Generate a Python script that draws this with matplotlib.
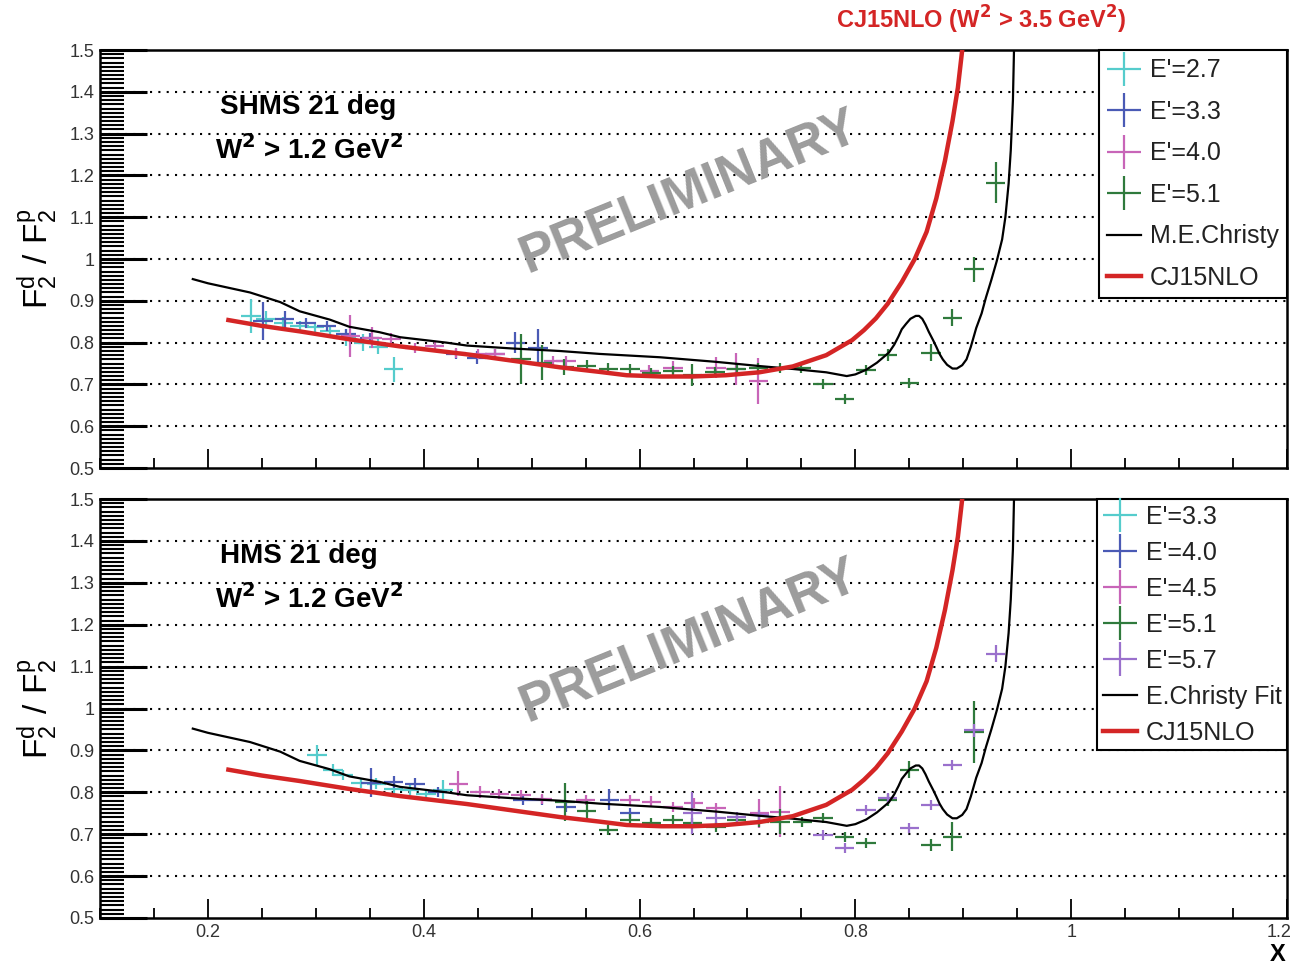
import matplotlib.pyplot as plt
import matplotlib.transforms as mtransforms
from matplotlib.container import ErrorbarContainer
from matplotlib.legend_handler import HandlerErrorbar
from matplotlib.ticker import MultipleLocator

plt.rcParams['font.family'] = ['Liberation Sans', 'DejaVu Sans']

# model curves (same in both panels)
christy_x = [0.186, 0.200, 0.239, 0.267, 0.285, 0.313, 0.331, 0.359, 0.378, 0.421, 0.440,
             0.482, 0.526, 0.563, 0.619, 0.671, 0.711, 0.742, 0.773, 0.792, 0.800, 0.810,
             0.820, 0.831, 0.836, 0.840, 0.843, 0.847, 0.851, 0.856, 0.859, 0.862, 0.865,
             0.868, 0.872, 0.875, 0.878, 0.881, 0.885, 0.890, 0.894, 0.899, 0.903, 0.907,
             0.912, 0.917, 0.921, 0.926, 0.931, 0.936, 0.939, 0.942, 0.944, 0.946, 0.947]
christy_y = [0.952, 0.942, 0.920, 0.897, 0.875, 0.855, 0.838, 0.825, 0.813, 0.800, 0.793,
             0.786, 0.780, 0.773, 0.765, 0.754, 0.744, 0.737, 0.729, 0.720, 0.724, 0.735,
             0.752, 0.776, 0.795, 0.815, 0.832, 0.845, 0.857, 0.864, 0.864, 0.857, 0.843,
             0.826, 0.806, 0.790, 0.773, 0.760, 0.747, 0.738, 0.738, 0.746, 0.760, 0.790,
             0.835, 0.870, 0.908, 0.950, 0.995, 1.047, 1.100, 1.180, 1.260, 1.380, 1.500]

cj15_x = [0.219, 0.250, 0.285, 0.331, 0.378, 0.440, 0.501, 0.526, 0.563, 0.588, 0.620,
          0.649, 0.680, 0.711, 0.742, 0.773, 0.797, 0.808, 0.819, 0.830, 0.843, 0.855,
          0.866, 0.875, 0.883, 0.890, 0.895, 0.899]
cj15_y = [0.854, 0.840, 0.827, 0.808, 0.791, 0.772, 0.750, 0.741, 0.730, 0.722, 0.719,
          0.719, 0.722, 0.729, 0.743, 0.770, 0.806, 0.830, 0.858, 0.893, 0.945, 1.000,
          1.065, 1.145, 1.235, 1.330, 1.410, 1.500]

# SHMS 21 deg
shms_labels = ["E'=2.7", "E'=3.3", "E'=4.0", "E'=5.1"]
shms_x = [
    [0.240, 0.254, 0.270, 0.285, 0.299, 0.313, 0.328, 0.344, 0.358, 0.372],
    [0.251, 0.271, 0.291, 0.310, 0.328, 0.350, 0.430, 0.449, 0.466, 0.485, 0.506],
    [0.332, 0.352, 0.370, 0.392, 0.410, 0.430, 0.450, 0.466, 0.520, 0.532, 0.609,
     0.631, 0.671, 0.689, 0.710],
    [0.490, 0.510, 0.530, 0.551, 0.571, 0.591, 0.611, 0.631, 0.649, 0.670, 0.690,
     0.710, 0.730, 0.750, 0.770, 0.790, 0.810, 0.830, 0.850, 0.870, 0.890, 0.910, 0.930],
]
shms_y = [
    [0.864, 0.856, 0.846, 0.840, 0.838, 0.828, 0.812, 0.800, 0.790, 0.736],
    [0.852, 0.856, 0.848, 0.840, 0.820, 0.812, 0.772, 0.764, 0.772, 0.800, 0.788],
    [0.816, 0.812, 0.808, 0.788, 0.792, 0.776, 0.772, 0.772, 0.756, 0.756, 0.732,
     0.740, 0.740, 0.736, 0.708],
    [0.760, 0.752, 0.742, 0.744, 0.737, 0.738, 0.728, 0.732, 0.722, 0.730, 0.738,
     0.740, 0.740, 0.740, 0.700, 0.664, 0.734, 0.770, 0.703, 0.776, 0.860, 0.975, 1.183],
]
shms_err = [
    [0.040, 0.020, 0.015, 0.012, 0.012, 0.015, 0.020, 0.020, 0.018, 0.030],
    [0.045, 0.020, 0.012, 0.012, 0.012, 0.012, 0.012, 0.015, 0.012, 0.025, 0.045],
    [0.050, 0.025, 0.015, 0.012, 0.012, 0.012, 0.012, 0.012, 0.012, 0.012, 0.015,
     0.015, 0.025, 0.038, 0.056],
    [0.060, 0.042, 0.020, 0.015, 0.015, 0.012, 0.012, 0.012, 0.026, 0.012, 0.012,
     0.012, 0.012, 0.012, 0.012, 0.012, 0.012, 0.015, 0.012, 0.020, 0.020, 0.030, 0.048],
]
shms_colors = ['#55cccc', '#4a5ab5', '#c865b8', '#2f7a3c']

# HMS 21 deg
hms_labels = ["E'=3.3", "E'=4.0", "E'=4.5", "E'=5.1", "E'=5.7"]
hms_x = [
    [0.301, 0.316, 0.325, 0.342, 0.356, 0.372, 0.387, 0.402, 0.418],
    [0.351, 0.372, 0.392, 0.413, 0.492, 0.510, 0.532, 0.572, 0.591],
    [0.432, 0.452, 0.470, 0.490, 0.510, 0.550, 0.591, 0.611, 0.631, 0.650, 0.671,
     0.711, 0.730],
    [0.531, 0.551, 0.571, 0.591, 0.611, 0.631, 0.649, 0.671, 0.690, 0.711, 0.730,
     0.751, 0.770, 0.790, 0.810, 0.830, 0.850, 0.870, 0.890, 0.910],
    [0.649, 0.671, 0.690, 0.711, 0.770, 0.790, 0.810, 0.830, 0.850, 0.870, 0.890,
     0.910, 0.930],
]
hms_y = [
    [0.889, 0.853, 0.841, 0.823, 0.821, 0.807, 0.805, 0.797, 0.805],
    [0.823, 0.825, 0.821, 0.801, 0.781, 0.781, 0.764, 0.782, 0.750],
    [0.821, 0.801, 0.797, 0.793, 0.785, 0.781, 0.782, 0.778, 0.766, 0.774, 0.762,
     0.750, 0.754],
    [0.777, 0.755, 0.710, 0.734, 0.726, 0.734, 0.726, 0.718, 0.734, 0.730, 0.730,
     0.730, 0.738, 0.694, 0.678, 0.782, 0.854, 0.674, 0.694, 0.944],
    [0.750, 0.738, 0.742, 0.746, 0.698, 0.667, 0.758, 0.786, 0.714, 0.770, 0.866,
     0.948, 1.131],
]
hms_err = [
    [0.025, 0.015, 0.012, 0.012, 0.012, 0.012, 0.012, 0.012, 0.025],
    [0.035, 0.015, 0.012, 0.012, 0.012, 0.012, 0.012, 0.025, 0.012],
    [0.030, 0.015, 0.012, 0.012, 0.012, 0.012, 0.012, 0.012, 0.012, 0.012, 0.012,
     0.035, 0.060],
    [0.045, 0.025, 0.012, 0.015, 0.012, 0.012, 0.012, 0.012, 0.012, 0.012, 0.030,
     0.012, 0.012, 0.012, 0.012, 0.015, 0.020, 0.015, 0.035, 0.075],
    [0.050, 0.012, 0.012, 0.012, 0.012, 0.012, 0.012, 0.012, 0.012, 0.012, 0.012,
     0.015, 0.020],
]
hms_colors = ['#55cccc', '#4a5ab5', '#c865b8', '#2f7a3c', '#9a70cc']

x_half = 0.009
y_ticks = [0.5, 0.6, 0.7, 0.8, 0.9, 1.0, 1.1, 1.2, 1.3, 1.4, 1.5]
y_ticklabels = ['0.5', '0.6', '0.7', '0.8', '0.9', '1', '1.1', '1.2', '1.3', '1.4', '1.5']
x_ticks = [0.2, 0.4, 0.6, 0.8, 1.0, 1.2]
x_ticklabels = ['0.2', '0.4', '0.6', '0.8', '1', '1.2']

fig = plt.figure(figsize=(12.97, 9.66), dpi=100)
ax1 = fig.add_axes([0.0771, 0.5155, 0.9152, 0.4327])
ax2 = fig.add_axes([0.0771, 0.0497, 0.9152, 0.4337])


def panel(ax, xs, ys, errs, colors, labels, model_label, title, spacing, bpad):
    ax.set_xlim(0.1, 1.2)
    ax.set_ylim(0.5, 1.5)
    # dotted horizontal grid
    for yv in y_ticks[1:-1]:
        ax.axhline(yv, color='black', lw=1.5, ls=(0, (1, 3)), zorder=1)
    handles = []
    for x, y, e, c, lab in zip(xs, ys, errs, colors, labels):
        h = ax.errorbar(x, y, yerr=e, xerr=x_half, fmt='none', ecolor=c,
                        elinewidth=1.6, label=lab, zorder=3)
        handles.append(h)
    l1, = ax.plot(christy_x, christy_y, color='black', lw=1.6, label=model_label, zorder=4)
    l2, = ax.plot(cj15_x, cj15_y, color='#d42525', lw=3.2, label='CJ15NLO', zorder=4)
    handles += [l1, l2]

    ax.text(0.497, 0.66, 'PRELIMINARY', transform=ax.transAxes, fontsize=38,
            fontweight='bold', color='#9c9c9c', rotation=22, ha='center',
            va='center', rotation_mode='anchor', zorder=2)
    ax.text(0.101, 0.864, title, transform=ax.transAxes, fontsize=20,
            fontweight='bold', va='center')
    ax.text(0.097, 0.761, r'W$^\mathbf{2}$ > 1.2 GeV$^\mathbf{2}$', transform=ax.transAxes,
            fontsize=20, fontweight='bold', va='center')

    leg = ax.legend(handles=handles, loc='upper right', bbox_to_anchor=(1.0, 1.0),
                    borderaxespad=0, fancybox=False, edgecolor='black', fontsize=18,
                    labelspacing=spacing, handlelength=1.36, handletextpad=0.35,
                    borderpad=bpad, framealpha=1,
                    handler_map={ErrorbarContainer: HandlerErrorbar(xerr_size=0.68,
                                                                    yerr_size=0.68)})
    leg.get_frame().set_linewidth(1.5)
    leg.set_zorder(6)
    for t in leg.get_texts():
        t.set_color('#222222')

    # ROOT-like ticks
    ax.set_yticks(y_ticks)
    ax.set_yticklabels(y_ticklabels)
    ax.yaxis.set_minor_locator(MultipleLocator(0.01))
    ax.xaxis.set_minor_locator(MultipleLocator(0.05))
    ax.set_xticks(x_ticks)
    ax.tick_params(axis='y', which='major', direction='in', length=34, width=2.2,
                   labelsize=13, labelcolor='#333333', pad=4, right=False)
    ax.tick_params(axis='y', which='minor', direction='in', length=17, width=1.5, right=False)
    ax.tick_params(axis='x', which='major', direction='in', length=14, width=1.3, top=False)
    ax.tick_params(axis='x', which='minor', direction='in', length=7, width=1.3, top=False)
    for s in ax.spines.values():
        s.set_linewidth(1.8)
    ax.set_ylabel(r'$\mathregular{F_2^d\ /\ F_2^p}$', fontsize=24)
    ax.yaxis.set_label_coords(-0.034, 0.5)


panel(ax1, shms_x, shms_y, shms_err, shms_colors, shms_labels, 'M.E.Christy',
      'SHMS 21 deg', 0.7, 0.33)
panel(ax2, hms_x, hms_y, hms_err, hms_colors, hms_labels, 'E.Christy Fit',
      'HMS 21 deg', 0.48, 0.22)

ax1.tick_params(axis='x', labelbottom=False)
ax2.set_xticklabels(x_ticklabels)
ax2.tick_params(axis='x', labelsize=13, labelcolor='#333333', pad=4)
# keep the last label inside the figure
last = ax2.get_xticklabels()[-1]
last.set_transform(last.get_transform() +
                   mtransforms.ScaledTranslation(-8 / 100, 0, fig.dpi_scale_trans))

fig.text(0.7564, 0.979, r'CJ15NLO (W$^\mathbf{2}$ > 3.5 GeV$^\mathbf{2}$)', color='#d42525',
         fontsize=17, fontweight='bold', ha='center', va='center')
fig.text(0.9853, 0.0114, 'X', fontsize=17, fontweight='bold', ha='center', va='center')

fig.savefig('out.png', dpi=100)
